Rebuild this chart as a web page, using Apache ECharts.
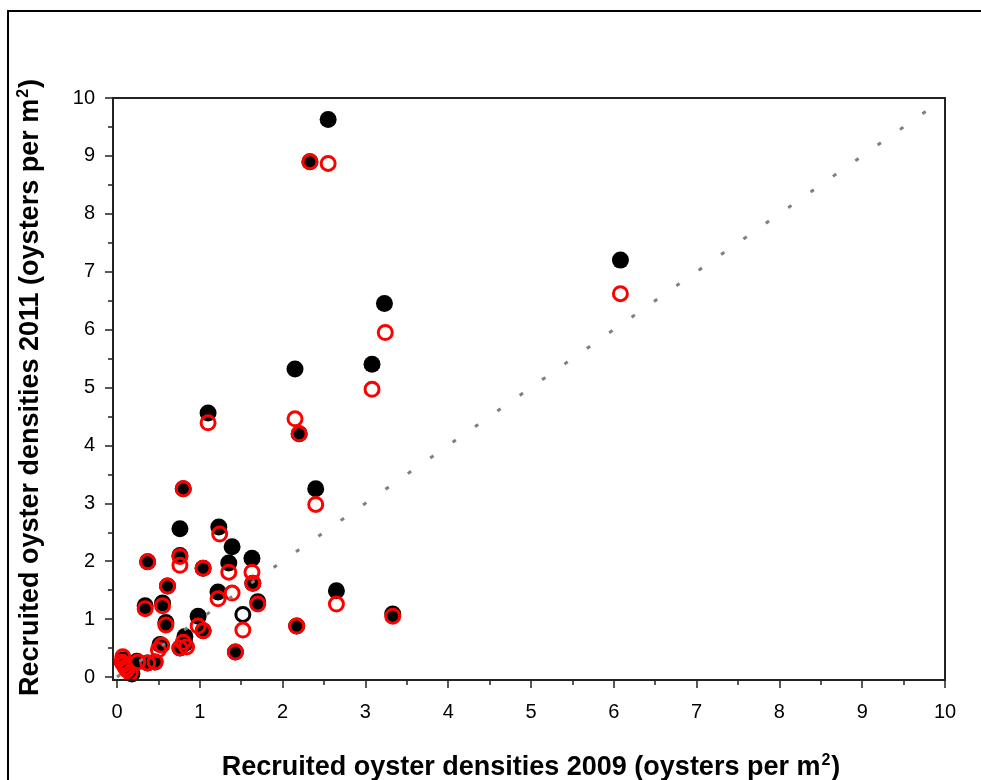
<!DOCTYPE html>
<html>
<head>
<meta charset="utf-8">
<script src="https://cdn.jsdelivr.net/npm/echarts@6/dist/echarts.min.js"></script>
<style>
  html, body { margin: 0; padding: 0; background: #fff; }
  #chart { width: 981px; height: 780px; }
</style>
</head>
<body>
<div id="chart"></div>
<script>
// 2009 density (x) vs 2011 density (y)
const blackFilled = [
  [2.55, 9.63], [2.33, 8.9], [6.08, 7.2], [3.23, 6.45], [3.08, 5.4],
  [2.15, 5.32], [1.1, 4.56], [2.2, 4.2], [2.4, 3.25], [0.8, 3.25],
  [0.76, 2.56], [1.23, 2.59], [1.39, 2.25], [0.37, 1.99], [0.76, 2.1],
  [1.04, 1.88], [1.35, 1.97], [1.63, 2.05], [1.64, 1.62], [0.61, 1.57],
  [1.22, 1.47], [1.7, 1.3], [0.34, 1.23], [0.55, 1.28], [2.65, 1.49],
  [3.33, 1.09], [0.98, 1.05], [2.17, 0.88], [1.04, 0.8], [0.59, 0.94],
  [1.43, 0.43], [0.82, 0.7], [0.76, 0.5], [0.52, 0.56], [0.46, 0.26],
  [0.37, 0.24], [0.24, 0.27], [0.18, 0.05], [0.08, 0.3], [0.12, 0.18],
  [0.82, 0.58]
];
const blackOpen = [[1.52, 1.08]];
const redOpen = [
  [2.55, 8.87], [2.33, 8.9], [6.08, 6.62], [3.24, 5.95], [3.08, 4.97],
  [2.15, 4.46], [1.1, 4.39], [2.2, 4.2], [2.4, 2.98], [0.8, 3.25],
  [1.24, 2.47], [0.37, 1.99], [0.76, 2.08], [0.76, 1.93], [1.04, 1.88],
  [1.35, 1.81], [1.63, 1.81], [1.64, 1.62], [0.61, 1.57], [1.22, 1.35],
  [1.39, 1.45], [1.7, 1.26], [0.34, 1.18], [0.55, 1.23], [2.65, 1.26],
  [3.33, 1.05], [1.52, 0.81], [2.17, 0.88], [0.98, 0.88], [1.04, 0.8],
  [0.59, 0.9], [1.43, 0.43], [0.8, 0.6], [0.84, 0.52], [0.76, 0.5],
  [0.54, 0.55], [0.5, 0.47], [0.46, 0.26], [0.37, 0.24], [0.25, 0.26],
  [0.07, 0.35], [0.06, 0.26], [0.1, 0.17], [0.16, 0.07], [0.12, 0.12],
  [0.08, 0.22]
];
const oneToOne = [[0, 0], [10, 10]];

const FONT = "'Liberation Sans', Arial, sans-serif";

const titleRich = {
  a: { fontSize: 27, fontWeight: 'bold', fontFamily: FONT, color: '#000', lineHeight: 30 },
  s: { fontSize: 16, fontWeight: 'bold', fontFamily: FONT, color: '#000', verticalAlign: 'top', lineHeight: 30, padding: [0, 1, 14, 1] }
};

const axisCommon = {
  type: 'value',
  min: 0,
  max: 10,
  interval: 1,
  nameLocation: 'middle',
  axisLine: { show: false, onZero: false },
  axisTick: { show: true, inside: false, length: 8, lineStyle: { color: '#222', width: 1.5 } },
  minorTick: { show: true, splitNumber: 2, length: 5, lineStyle: { color: '#222', width: 1.5 } },
  splitLine: { show: false },
  axisLabel: { color: '#000', fontSize: 20, fontFamily: FONT }
};

const chart = echarts.init(document.getElementById('chart'));
chart.setOption({
  animation: false,
  backgroundColor: '#fff',
  grid: { left: 117, right: 36, top: 98, bottom: 103, containLabel: false, outerBoundsMode: 'none' },
  graphic: [
    // outer figure frame
    { type: 'rect', shape: { x: 8, y: 11, width: 1100, height: 900 },
      style: { fill: null, stroke: '#000', lineWidth: 2 }, silent: true },
    // plot box
    { type: 'rect', shape: { x: 113, y: 98, width: 832, height: 582 },
      style: { fill: null, stroke: '#222', lineWidth: 2 }, silent: true, z: 10 }
  ],
  xAxis: Object.assign({}, axisCommon, {
    offset: 3,
    name: '{a|Recruited oyster densities 2009 (oysters per m}{s|2}{a|)}',
    nameGap: 73,
    nameTextStyle: { rich: titleRich },
    axisLabel: Object.assign({}, axisCommon.axisLabel, { margin: 22 })
  }),
  yAxis: Object.assign({}, axisCommon, {
    offset: 4,
    name: '{a|Recruited oyster densities 2011 (oysters per m}{s|2}{a|)}',
    nameGap: 67,
    nameTextStyle: { rich: titleRich },
    axisLabel: Object.assign({}, axisCommon.axisLabel, { margin: 18 })
  }),
  series: [
    {
      type: 'scatter', data: blackFilled, symbol: 'circle', symbolSize: 17,
      itemStyle: { color: '#000', opacity: 1 }, z: 2
    },
    {
      type: 'scatter', data: blackOpen, symbol: 'circle', symbolSize: 14,
      itemStyle: { color: 'rgba(0,0,0,0)', borderColor: '#000', borderWidth: 3, opacity: 1 }, z: 3
    },
    {
      type: 'scatter', data: redOpen, symbol: 'circle', symbolSize: 14,
      itemStyle: { color: 'rgba(0,0,0,0)', borderColor: '#ff0000', borderWidth: 3, opacity: 1 }, z: 4
    },
    {
      type: 'line', data: oneToOne, showSymbol: false, symbol: 'none', z: 5,
      lineStyle: { color: '#808080', width: 3, type: [4, 23.3], cap: 'butt' }
    }
  ]
});
</script>
</body>
</html>
